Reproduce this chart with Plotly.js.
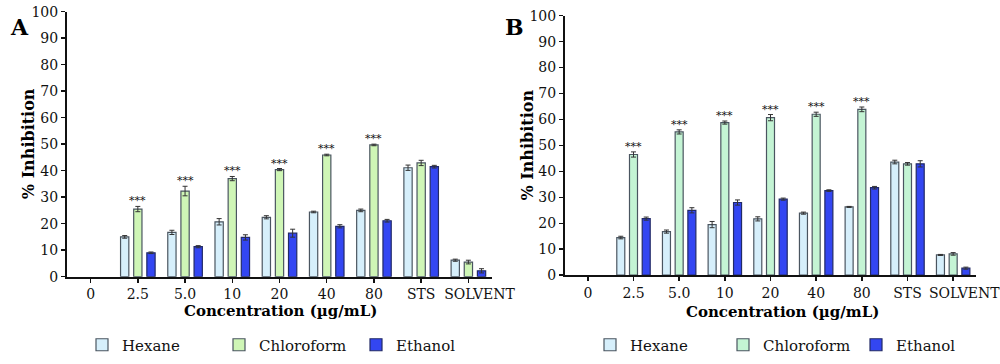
<!DOCTYPE html>
<html><head><meta charset="utf-8">
<script src="https://cdn.plot.ly/plotly-3.0.1.min.js"></script>
<style>html,body{margin:0;padding:0;background:#fff}#chart{width:1000px;height:364px}</style>
</head><body><div id="chart"></div>
<script>
const categories = ['0','2.5','5.0','10','20','40','80','STS','SOLVENT'];
// tick labels (SOLVENT label sits slightly right of its tick, as in the original)
const tickLabels = ['0','2.5','5.0','10','20','40','80','STS','\u00a0\u00a0\u00a0\u00a0\u00a0SOLVENT'];
const seriesNames = ['Hexane','Chloroform','Ethanol'];

// Panel A (no bars at concentration 0)
const hexaneA = [null, 15.0, 16.7, 20.7, 22.4, 24.4, 25.0, 41.1, 6.2];
const hexaneAErr = [0, 0.5, 0.8, 1.2, 0.6, 0.3, 0.5, 1.0, 0.4];
const chloroA = [null, 25.5, 32.3, 37.0, 40.4, 45.9, 49.7, 42.9, 5.5];
const chloroAErr = [0, 1.0, 1.8, 0.8, 0.4, 0.3, 0.3, 1.0, 0.7];
const ethanolA = [null, 9.0, 11.3, 14.8, 16.4, 19.0, 21.1, 41.5, 2.2];
const ethanolAErr = [0, 0.3, 0.4, 1.0, 1.5, 0.6, 0.5, 0.5, 0.8];

// Panel B
const hexaneB = [null, 14.5, 16.8, 19.5, 21.7, 23.9, 26.3, 43.6, 7.8];
const hexaneBErr = [0, 0.5, 0.6, 1.2, 0.8, 0.4, 0.2, 0.7, 0.2];
const chloroB = [null, 46.5, 55.2, 58.8, 60.7, 62.0, 63.9, 42.9, 8.2];
const chloroBErr = [0, 1.0, 0.8, 0.6, 1.2, 0.8, 0.9, 0.5, 0.5];
const ethanolB = [null, 21.8, 25.0, 28.0, 29.3, 32.6, 33.7, 42.9, 2.7];
const ethanolBErr = [0, 0.6, 1.0, 1.0, 0.4, 0.3, 0.5, 1.2, 0.4];

// significance markers (over chloroform bars)
const sigA = ['', '***', '***', '***', '***', '***', '***', '', ''];
const sigB = ['', '***', '***', '***', '***', '***', '***', '', ''];

const FONT = 'DejaVu Serif, Liberation Serif, serif';
const colHex = '#d6effb', colChA = '#cff6b6', colChB = '#c4f4d4', colEth = '#3346f2';

function bar(name, y, err, color, xa, ya, leg, lineCol) {
  return {
    type: 'bar', name: name, x: categories, y: y,
    xaxis: xa, yaxis: ya, legend: leg,
    marker: {color: color, line: {color: lineCol || '#4a5560', width: 1.2}},
    error_y: {type: 'data', array: err, visible: true, color: '#333', thickness: 1, width: 2.5},
    hoverinfo: 'y'
  };
}

const data = [
  bar('Hexane', hexaneA, hexaneAErr, colHex, 'x', 'y', 'legend'),
  bar('Chloroform', chloroA, chloroAErr, colChA, 'x', 'y', 'legend'),
  bar('Ethanol', ethanolA, ethanolAErr, colEth, 'x', 'y', 'legend', '#222a66'),
  bar('Hexane', hexaneB, hexaneBErr, colHex, 'x2', 'y2', 'legend2'),
  bar('Chloroform', chloroB, chloroBErr, colChB, 'x2', 'y2', 'legend2'),
  bar('Ethanol', ethanolB, ethanolBErr, colEth, 'x2', 'y2', 'legend2', '#222a66')
];

const annotations = [];
function addSig(sig, vals, errs, xa, ya) {
  sig.forEach((s, i) => {
    if (!s) return;
    annotations.push({xref: xa, yref: ya, x: i, y: vals[i] + errs[i],
      text: s, showarrow: false, yanchor: 'bottom', yshift: -3,
      font: {family: FONT, size: 11, color: '#111'}});
  });
}
addSig(sigA, chloroA, chloroAErr, 'x', 'y');
addSig(sigB, chloroB, chloroBErr, 'x2', 'y2');

function note(x, y, text, size, extra) {
  annotations.push(Object.assign({xref: 'paper', yref: 'paper', x: x, y: y, text: text, showarrow: false,
    font: {family: FONT, size: size, color: '#000'}}, extra || {}));
}
note(0.008, 0.925, '<b>A</b>', 22, {xanchor: 'left', yanchor: 'middle'});
note(0.503, 0.925, '<b>B</b>', 22, {xanchor: 'left', yanchor: 'middle'});
note(0.028, 0.604, '<b>% Inhibition</b>', 16, {xanchor: 'center', yanchor: 'middle', textangle: -90});
note(0.528, 0.600, '<b>% Inhibition</b>', 16, {xanchor: 'center', yanchor: 'middle', textangle: -90});
note(0.280, 1 - 311 / 364, '<b>Concentration (µg/mL)</b>', 15, {xanchor: 'center', yanchor: 'middle'});
note(0.782, 1 - 312 / 364, '<b>Concentration (µg/mL)</b>', 15, {xanchor: 'center', yanchor: 'middle'});

function xax(domain, anchor) {
  return {domain: domain, anchor: anchor, type: 'category', range: [-0.5, 8.5],
    tickmode: 'array', tickvals: categories, ticktext: tickLabels,
    showline: true, linecolor: '#111', linewidth: 2, ticks: 'outside', ticklen: 4, tickwidth: 1.5, tickcolor: '#111',
    tickangle: 0, automargin: false,
    tickfont: {family: FONT, size: 14, color: '#111'}, showgrid: false, zeroline: false};
}
function yax(domain, anchor) {
  return {domain: domain, anchor: anchor, range: [0, 100], dtick: 10, tick0: 0,
    showline: true, linecolor: '#111', linewidth: 2, ticks: 'outside', ticklen: 4, tickwidth: 1.5, tickcolor: '#111',
    automargin: false,
    tickfont: {family: FONT, size: 14, color: '#111'}, showgrid: false, zeroline: false};
}

const legFont = {family: FONT, size: 15, color: '#111'};
const layout = {
  width: 1000, height: 364,
  margin: {l: 0, r: 0, t: 0, b: 0},
  paper_bgcolor: '#fff', plot_bgcolor: '#fff',
  barmode: 'group', bargap: 0.165, bargroupgap: 0.37,
  xaxis: xax([0.067, 0.492], 'y'),
  yaxis: yax([0.24, 0.968], 'x'),
  xaxis2: xax([0.565, 0.976], 'y2'),
  yaxis2: yax([0.244, 0.957], 'x2'),
  legend: {orientation: 'h', x: 0.082, xanchor: 'left', y: 1 - 345 / 364, yanchor: 'middle',
    font: legFont, itemwidth: 30, traceorder: 'normal', entrywidth: 92},
  legend2: {orientation: 'h', x: 0.59, xanchor: 'left', y: 1 - 345 / 364, yanchor: 'middle',
    font: legFont, itemwidth: 30, traceorder: 'normal', entrywidth: 88},
  annotations: annotations,
  showlegend: true
};

Plotly.newPlot('chart', data, layout, {displayModeBar: false, staticPlot: true});
</script></body></html>
